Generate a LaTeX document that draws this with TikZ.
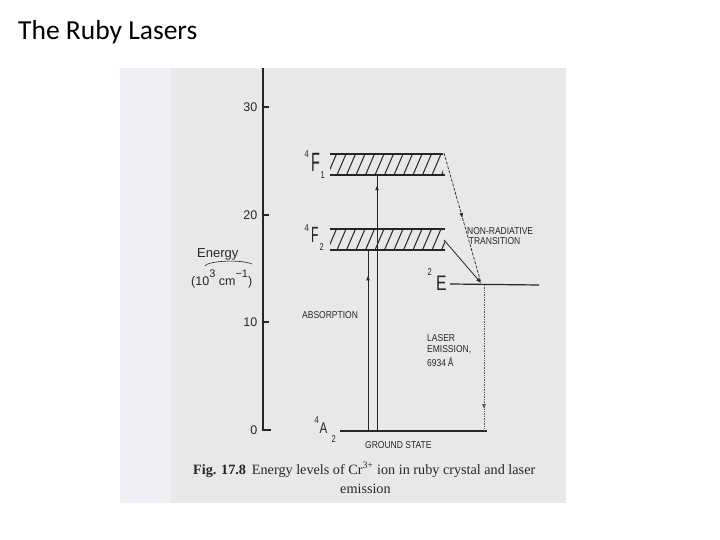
\documentclass[tikz,border=0pt]{standalone}
\usepackage{fontspec}
\setmainfont{Liberation Serif}
\setsansfont{Liberation Sans}
\newfontfamily\titlefont{Carlito}
\newfontfamily\tagfont{Liberation Sans}[FakeStretch=0.85]
\newfontfamily\narrowfont{Liberation Sans}[FakeStretch=0.55]
\newfontfamily\midfont{Liberation Sans}[FakeStretch=0.75]
\usetikzlibrary{arrows.meta,positioning,decorations.markings}
\definecolor{scan}{HTML}{E8E8EB}
\definecolor{scanedge}{HTML}{EEF0F5}
\definecolor{ink}{HTML}{262626}
\definecolor{faint}{HTML}{5A5A5A}

\tikzset{
  headat/.style={postaction={decorate},
    decoration={markings, mark=at position #1 with {\arrow{Latex[length=5pt,width=4pt]}}}},
  level/.style={ink, line width=1.2pt},
  tag/.style={font=\tagfont\fontsize{10}{11}\selectfont, ink, inner sep=0pt},
  idx/.style={font=\midfont\fontsize{10}{10}\selectfont, ink, inner sep=0pt, anchor=base west},
}

\begin{document}
\begin{tikzpicture}[x=1pt,y=-1pt]
    \useasboundingbox (0,0) rectangle (720,540);

    % Slide title
    \node[anchor=base west, inner sep=0pt, font=\titlefont\fontsize{27.5}{30}\selectfont] (title) at (18,40) {The Ruby Lasers};

    % Scanned page
    \fill[scan] (120,68) rectangle (566,503);
    \fill[scanedge] (120,68) rectangle (171,503);

    % Energy axis
    \draw[level] (263,68) -- (263,430) -- (271,430);
    \foreach \v/\y in {10/322,20/215,30/107} {
        \draw[level] (263,\y) -- (269,\y);
    }
    \foreach \v/\y in {0/430,10/322,20/215,30/107} {
        \node[tag, font=\sffamily\fontsize{12.5}{13}\selectfont, anchor=east] (tick\v) at (257.5,\y) {\v};
    }
    \node[tag, font=\sffamily\fontsize{13}{14}\selectfont, anchor=base west] (energy) at (197,257) {Energy};
    \draw[ink, line width=0.6pt] (205,266) .. controls (207,261) and (240,259) .. (252,264);
    \node[tag, font=\sffamily\fontsize{12.5}{14}\selectfont, anchor=base west] (unit) at (191,285)
        {(10\raisebox{8pt}{\fontsize{11}{11}\selectfont 3} cm\raisebox{8pt}{\fontsize{11}{11}\selectfont −1})};

    % 4F1 band
    \begin{scope}
        \clip (330,154) rectangle (443,175);
        \foreach \x in {318,327.5,...,450} {
            \draw[ink, line width=1pt] (\x,175) -- (\x+9,154);
        }
    \end{scope}
    \draw[level] (330,154) -- (443,154);
    \draw[level] (330,175) -- (445,175);
    \node[tag, font=\narrowfont\fontsize{26.5}{27}\selectfont, anchor=base west] (fone) at (311,172) {F};
    \node[idx] (fonesup) at (304.5,158) {4};
    \node[idx] (fonesub) at (320.5,179) {1};

    % 4F2 band
    \begin{scope}
        \clip (330,229) rectangle (445,250);
        \foreach \x in {318,327.5,...,450} {
            \draw[ink, line width=1pt] (\x,250) -- (\x+9,229);
        }
    \end{scope}
    \draw[level] (330,229) -- (445,229);
    \draw[level] (330,250) -- (445,250);
    \node[tag, font=\narrowfont\fontsize{22}{22}\selectfont, anchor=base west] (ftwo) at (311,243) {F};
    \node[idx] (ftwosup) at (304.5,232) {4};
    \node[idx] (ftwosub) at (319.5,251) {2};

    % 2E level
    \draw[level] (450,284) -- (539,285);
    \node[tag, font=\midfont\fontsize{21}{21}\selectfont, anchor=base west] (etwo) at (436,290) {E};
    \node[idx] (etwosup) at (427.5,275.5) {2};

    % Ground state
    \draw[level] (340,431) -- (487,431);
    \node[tag, font=\midfont\fontsize{15.5}{16}\selectfont, anchor=base west] (aground) at (319.5,433) {A};
    \node[idx] (agroundsup) at (314.5,423) {4};
    \node[idx] (agroundsub) at (331.5,442) {2};
    \node[tag, anchor=west] (ground) at (365,445) {GROUND STATE};

    % Transitions
    \coordinate (pumpone) at (377,431);
    \coordinate (pumponetop) at (377,175);
    \coordinate (pumptwo) at (368,431);
    \coordinate (pumptwotop) at (368,250);
    \coordinate (fonecorner) at (444,153);
    \coordinate (ftwoedge) at (444,240);
    \coordinate (eleft) at (481,283);
    \coordinate (laser) at (484,285);
    \coordinate (laserfoot) at (484,431);

    \draw[ink, line width=0.9pt, headat=0.96] (pumpone) -- (pumponetop);
    \draw[ink, line width=0.9pt, headat=0.86] (pumptwo) -- (pumptwotop);
    \draw[ink, line width=0.7pt, dash pattern=on 3pt off 1.5pt, headat=0.5] (fonecorner) -- (eleft);
    \draw[ink, line width=0.8pt, -{Latex[length=5pt,width=4pt]}] (ftwoedge) -- (eleft);
    \draw[faint, line width=0.7pt, densely dotted, headat=0.85] (laser) -- (laserfoot);

    % Labels
    \node[tag, anchor=west] (absorb) at (302,315) {ABSORPTION};
    \node[tag, anchor=north west, align=left] (nonrad) at (467,227) {NON-RADIATIVE\\[-1pt]\,TRANSITION};
    \node[tag, anchor=north west, align=left] (emit) at (427,334) {LASER\\[0pt]EMISSION,\\[3pt]6934\,Å};

    % Caption
    \node[inner sep=0pt, font=\fontsize{14.2}{16}\selectfont, ink, anchor=base west] (caption) at (193,474)
        {\textbf{Fig. 17.8}\, Energy levels of Cr\textsuperscript{3+} ion in ruby crystal and laser};
    \node[inner sep=0pt, font=\fontsize{14.2}{16}\selectfont, ink, anchor=base west] (caption2) at (340,493) {emission};
\end{tikzpicture}
\end{document}
